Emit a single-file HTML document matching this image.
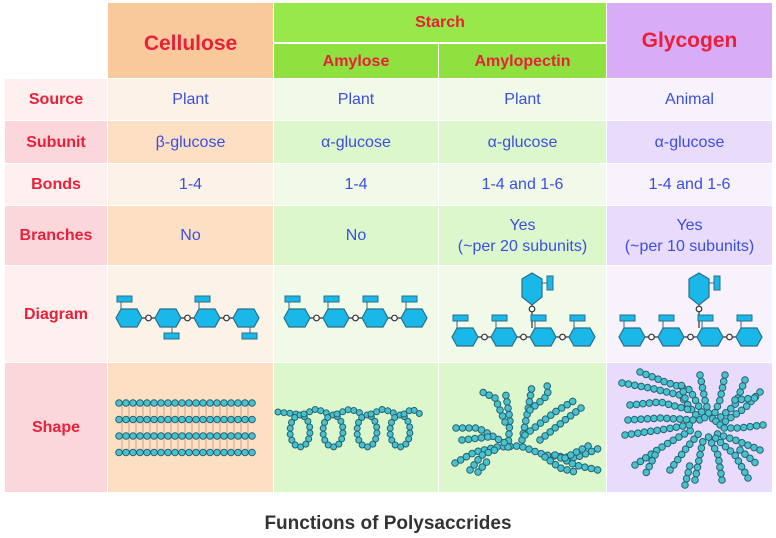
<!DOCTYPE html>
<html><head><meta charset="utf-8"><style>
body{margin:0;width:776px;height:538px;background:#fff;position:relative;overflow:hidden;font-family:"Liberation Sans",Arial,sans-serif}
.c{position:absolute;display:flex;align-items:center;justify-content:center;text-align:center;line-height:21px}
.r{color:#e8203a;font-weight:bold;font-size:16px}
.b{color:#3a4fe0;font-size:16px}
svg{position:absolute;left:0;top:0}
</style></head><body>
<div class="c r" style="left:108px;top:3px;width:165px;height:75px;background:#f9c89b;font-size:21px;padding-top:6px;box-sizing:border-box">Cellulose</div>
<div class="c r" style="left:274px;top:3px;width:332px;height:39px;background:#96e84b">Starch</div>
<div class="c r" style="left:274px;top:44px;width:164px;height:34px;background:#8fe13f">Amylose</div>
<div class="c r" style="left:439px;top:44px;width:167px;height:34px;background:#8fe13f">Amylopectin</div>
<div class="c r" style="left:607px;top:3px;width:165px;height:75px;background:#d8acf7;font-size:21px">Glycogen</div>
<div id="rows"></div>
<svg id="s" width="776" height="538"></svg>
<div class="c" style="left:0;top:508px;width:776px;height:30px;font-weight:bold;font-size:19px;color:#333">Functions of Polysaccrides</div>
<script>
var cols=[[5,102],[108,165],[274,164],[439,167],[607,165]];
var rows=[[79,41],[121,42],[164,41],[206,59],[266,96],[363,129]];
var light=['#fdf0ee','#fdf2e8','#f1fae9','#f1fae9','#f8f2fd'];
var dark=['#fbd7dc','#fde0c4','#ddf7cc','#ddf7cc','#e9dbfc'];
var data=[['Source','Plant','Plant','Plant','Animal'],['Subunit','β-glucose','α-glucose','α-glucose','α-glucose'],['Bonds','1-4','1-4','1-4 and 1-6','1-4 and 1-6'],['Branches','No','No','Yes<br>(~per 20 subunits)','Yes<br>(~per 10 subunits)'],['Diagram','','','',''],['Shape','','','','']];
var h='';
for(var i=0;i<6;i++)for(var j=0;j<5;j++){
 var bg=(i%2?dark:light)[j];
 h+='<div class="c '+(j?'b':'r')+'" style="left:'+cols[j][0]+'px;top:'+rows[i][0]+'px;width:'+cols[j][1]+'px;height:'+rows[i][1]+'px;background:'+bg+'">'+data[i][j]+'</div>';
}
document.getElementById('rows').innerHTML=h;
var s='';
function hex(x,y){return '<polygon points="'+(x-13)+','+y+' '+(x-8)+','+(y-9)+' '+(x+8)+','+(y-9)+' '+(x+13)+','+y+' '+(x+8)+','+(y+9)+' '+(x-8)+','+(y+9)+'" fill="#1ab8e8" stroke="#2a6f8a" stroke-width="1.2"/>';}
function vhex(x,y){return '<polygon points="'+x+','+(y-16)+' '+(x+10)+','+(y-10)+' '+(x+10)+','+(y+8)+' '+x+','+(y+16)+' '+(x-10)+','+(y+8)+' '+(x-10)+','+(y-10)+'" fill="#1ab8e8" stroke="#2a6f8a" stroke-width="1.2"/>';}
function tab(x,y,w,hh){return '<rect x="'+x+'" y="'+y+'" width="'+w+'" height="'+hh+'" fill="#1ab8e8" stroke="#2a6f8a" stroke-width="1"/>';}
function link(x,y){return '<circle cx="'+x+'" cy="'+y+'" r="2.8" fill="#fff" stroke="#333" stroke-width="1.2"/>';}
function chainRow(x0,y,tabs){
 var o='<line x1="'+x0+'" y1="'+y+'" x2="'+(x0+117)+'" y2="'+y+'" stroke="#333" stroke-width="1.2"/>';
 for(var k=0;k<4;k++){var x=x0+k*39;
  var up=tabs[k];
  if(up){o+='<line x1="'+(x-8)+'" y1="'+(y-9)+'" x2="'+(x-8)+'" y2="'+(y-17)+'" stroke="#2a6f8a"/>'+tab(x-12,y-22,15,6);}
  else{o+='<line x1="'+(x+4)+'" y1="'+(y+9)+'" x2="'+(x+4)+'" y2="'+(y+15)+'" stroke="#2a6f8a"/>'+tab(x-4,y+15,15,6);}
  o+=hex(x,y);
  if(k<3)o+=link(x+19.5,y);}
 return o;}
s+=chainRow(129,318,[1,0,1,0]);
s+=chainRow(297,318,[1,1,1,1]);
[465,632].forEach(function(x0){
 s+='<line x1="'+(x0+67)+'" y1="'+305+'" x2="'+(x0+67)+'" y2="'+328+'" stroke="#333" stroke-width="1.2"/>';
 s+=chainRow(x0,337,[1,1,1,1]);
 s+=link(x0+67,309)+vhex(x0+67,289)+'<line x1="'+(x0+77)+'" y1="'+283+'" x2="'+(x0+82)+'" y2="'+283+'" stroke="#2a6f8a"/>'+tab(x0+82,276,6,14);
});
var R=3.3;
function dot(x,y){return '<circle cx="'+x.toFixed(1)+'" cy="'+y.toFixed(1)+'" r="'+R+'" fill="#46c3cf" stroke="#2a6070" stroke-width="1"/>';}
function poly(pts,sp){sp=sp||6.5;var o='',acc=0;
 for(var k=0;k<pts.length-1;k++){var a=pts[k],b=pts[k+1],dx=b[0]-a[0],dy=b[1]-a[1],L=Math.hypot(dx,dy);
  while(acc<=L){o+=dot(a[0]+dx*acc/L,a[1]+dy*acc/L);acc+=sp;} acc-=L;}
 return o;}
for(var x=122;x<=253;x+=7)s+='<line x1="'+x+'" y1="403" x2="'+x+'" y2="453" stroke="#c9a58a" stroke-width="1"/>';
[403,419.5,436,452.5].forEach(function(y){for(var x=119;x<=254;x+=7)s+=dot(x,y);});
// amylose
(function(){R=3;var cx=[300,333,367,400];var o='';
 o+=poly([[278,412],[296,414]],6);
 cx.forEach(function(c,i){var q=[];for(var a=0;a<=2*Math.PI+0.01;a+=0.15)q.push([c-10*Math.sin(a),415+16*(1-Math.cos(a))]);
  o+=poly(q,6);
  var nx=i<3?cx[i+1]:424;o+=poly([[c+4,414],[(c+nx)/2,409],[nx-4,414]],6);});
 s+=o;R=3.3;})();
var ap=[[[455,463],[475,452],[497,447],[520,446],[545,455],[575,458],[600,448]],
[[508,447],[510,420],[505,390]],[[505,422],[495,398],[478,390]],[[522,440],[528,410],[532,386]],
[[530,410],[548,395],[547,383]],[[540,440],[565,420],[585,405]],[[525,435],[555,412],[575,400]],
[[456,428],[478,428],[505,443]],[[462,440],[488,437]],[[470,470],[482,455],[500,448]],
[[478,472],[490,458]],[[555,455],[575,465],[598,470]],[[565,458],[590,445]],[[545,457],[560,468],[575,472]]];
ap.forEach(function(p){s+=poly(p);});
var g=[[[622,383],[650,388],[680,395],[700,420]],[[630,405],[660,402],[690,410]],[[640,372],[665,382],[690,390],[705,418]],
[[700,375],[705,400],[710,418]],[[725,375],[720,400],[712,420]],[[745,380],[735,405],[715,422]],[[760,392],[745,408],[720,425]],
[[763,425],[740,428],[718,428]],[[760,450],[735,440],[712,432]],[[748,478],[735,455],[712,435]],[[722,480],[718,455],[708,436]],
[[695,480],[700,455],[704,436]],[[670,470],[685,450],[700,432]],[[635,465],[665,445],[695,428]],[[625,435],[660,430],[695,424]],
[[628,420],[660,418],[695,420]],[[685,485],[690,465]],[[655,455],[645,475]],[[735,400],[755,398]],[[740,450],[758,465]],[[685,398],[680,380]]];
g.forEach(function(p){s+=poly(p);});
document.getElementById('s').innerHTML=s;
</script>
</body></html>
